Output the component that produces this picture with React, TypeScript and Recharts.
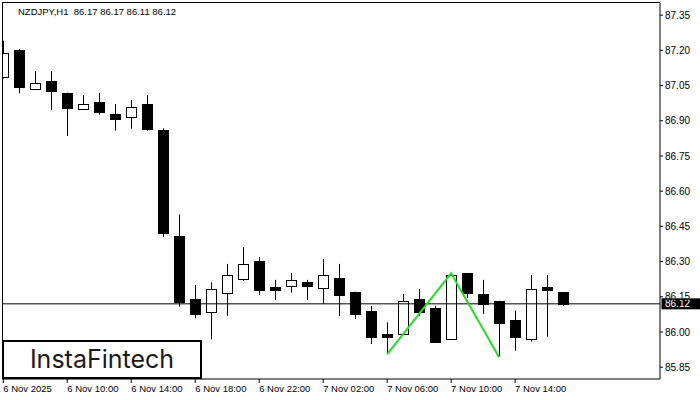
import React from "react";
import { ComposedChart, Bar, Line, XAxis, YAxis, ReferenceLine } from "recharts";

const opens = [87.088, 87.202, 87.037, 87.069, 87.018, 86.949, 86.98, 86.929, 86.917, 86.971, 86.861, 86.409, 86.141, 86.086, 86.167, 86.227, 86.303, 86.192, 86.197, 86.212, 86.189, 86.23, 86.17, 86.089, 85.99, 85.99, 86.139, 86.101, 85.969, 86.251, 86.162, 86.132, 86.051, 85.969, 86.19, 86.17];
const highs = [87.241, 87.205, 87.112, 87.112, 87.02, 87.01, 87.018, 86.971, 86.988, 87.01, 86.868, 86.501, 86.2, 86.212, 86.29, 86.362, 86.32, 86.222, 86.251, 86.222, 86.311, 86.29, 86.172, 86.111, 86.041, 86.162, 86.183, 86.111, 86.246, 86.252, 86.222, 86.133, 86.091, 86.243, 86.243, 86.17];
const lows = [87.08, 87.017, 87.035, 86.946, 86.835, 86.947, 86.926, 86.858, 86.866, 86.858, 86.406, 86.108, 86.058, 85.969, 86.069, 86.217, 86.158, 86.136, 86.167, 86.136, 86.119, 86.068, 86.055, 85.949, 85.909, 85.988, 86.068, 85.958, 85.968, 86.145, 86.077, 85.895, 85.92, 85.959, 85.98, 86.11];
const closes = [87.187, 87.045, 87.06, 87.028, 86.956, 86.971, 86.939, 86.909, 86.957, 86.866, 86.421, 86.129, 86.078, 86.182, 86.242, 86.288, 86.179, 86.179, 86.22, 86.197, 86.242, 86.159, 86.078, 85.98, 85.98, 86.131, 86.086, 85.959, 86.243, 86.167, 86.118, 86.04, 85.98, 86.182, 86.18, 86.12];

const patternIdx = [24, 28, 31];
const patternVals = [85.905, 86.25, 85.892];

const xTickIdx = [0, 4, 8, 12, 16, 20, 24, 28, 32];
const xTickLabels = ["6 Nov 2025", "6 Nov 10:00", "6 Nov 14:00", "6 Nov 18:00", "6 Nov 22:00", "7 Nov 02:00", "7 Nov 06:00", "7 Nov 10:00", "7 Nov 14:00"];
const yTicks = [85.85, 86.0, 86.15, 86.3, 86.45, 86.6, 86.75, 86.9, 87.05, 87.2, 87.35];
const lastPrice = 86.12;
const title = "NZDJPY,H1  86.17 86.17 86.11 86.12";
const logoText = "InstaFintech";

const data = opens.map((o, i) => {
  const p = patternIdx.indexOf(i);
  return {
    i,
    o,
    h: highs[i],
    l: lows[i],
    c: closes[i],
    range: [lows[i], highs[i]],
    zz: p >= 0 ? patternVals[p] : null,
  };
});

const FONT = "'Liberation Sans', Arial, sans-serif";

const Candle = (props: any) => {
  const { x, y, width, height, payload } = props;
  if (x == null || y == null || !payload) return null;
  const top = Math.min(y, y + height);
  const bot = Math.max(y, y + height);
  const { o, h, l, c } = payload;
  const k = (bot - top) / (h - l || 1);
  const py = (v: number) => top + (h - v) * k;
  const cx = Math.round(x + width / 2);
  const bTop = Math.round(py(Math.max(o, c)));
  const bBot = Math.round(py(Math.min(o, c)));
  const up = c >= o;
  return (
    <g>
      <line x1={cx + 0.5} x2={cx + 0.5} y1={top} y2={bot} stroke="#000" strokeWidth={1} />
      <rect
        x={cx - 5 + 0.5}
        y={bTop + 0.5}
        width={10}
        height={Math.max(bBot - bTop, 1)}
        fill={up ? "#fff" : "#000"}
        stroke="#000"
        strokeWidth={1}
      />
    </g>
  );
};

const XTick = (props: any) => {
  const { x, y, payload } = props;
  const idx = xTickIdx.indexOf(payload.value);
  if (idx < 0) return null;
  return (
    <text x={x} y={y} dy={7} fontSize={9.5} fontFamily={FONT} fill="#000" textAnchor="start">
      {xTickLabels[idx]}
    </text>
  );
};

const PriceLabel = (props: any) => {
  const vb = props.viewBox || {};
  const right = (vb.x || 0) + (vb.width || 0);
  const yy = vb.y || 0;
  return (
    <g>
      <rect x={right + 1.5} y={yy - 5.5} width={40} height={11} fill="#000" />
      <text x={right + 5} y={yy + 3.5} fontSize={10} fontFamily={FONT} fill="#fff">
        {lastPrice.toFixed(2)}
      </text>
    </g>
  );
};

export default function App() {
  return (
    <div style={{ position: "relative", width: 700, height: 400, background: "#fff" }}>
      <style>{"body{margin:0;background:#fff}"}</style>
      <ComposedChart
        width={700}
        height={400}
        data={data}
        margin={{ top: 3, left: 2, right: 0, bottom: 0 }}
      >
        <XAxis
          dataKey="i"
          type="number"
          domain={[-0.08, 41.06]}
          allowDataOverflow
          ticks={xTickIdx}
          interval={0}
          height={21}
          tickSize={4}
          tick={<XTick />}
          axisLine={{ stroke: "#000" }}
          tickLine={{ stroke: "#000" }}
        />
        <YAxis
          orientation="right"
          type="number"
          domain={[85.7997, 87.4018]}
          allowDataOverflow
          ticks={yTicks}
          interval={0}
          width={40}
          tickSize={3}
          tickMargin={2}
          tickFormatter={(v: number) => v.toFixed(2)}
          tick={{ fontSize: 10, fill: "#000", fontFamily: FONT }}
          axisLine={{ stroke: "#000" }}
          tickLine={{ stroke: "#000" }}
        />
        <ReferenceLine
          y={lastPrice}
          stroke="#000"
          strokeWidth={1}
          label={<PriceLabel />}
        />
        <Bar dataKey="range" barSize={11} shape={<Candle />} isAnimationActive={false} />
        <Line
          dataKey="zz"
          stroke="#22e022"
          strokeWidth={2}
          dot={false}
          connectNulls
          isAnimationActive={false}
        />
      </ComposedChart>
      <div
        style={{
          position: "absolute",
          left: 2,
          top: 2,
          width: 658,
          height: 377,
          borderLeft: "1px solid #000",
          borderTop: "1px solid #000",
          boxSizing: "border-box",
          pointerEvents: "none",
        }}
      />
      <div
        style={{
          position: "absolute",
          left: 18,
          top: 6.5,
          fontFamily: FONT,
          fontSize: 9.5,
          lineHeight: "10px",
          color: "#000",
          whiteSpace: "pre",
        }}
      >
        {title}
      </div>
      <div
        style={{
          position: "absolute",
          left: 2,
          top: 340,
          width: 200,
          height: 39,
          border: "2px solid #000",
          boxSizing: "border-box",
          background: "#fff",
          display: "flex",
          alignItems: "center",
          justifyContent: "center",
          fontFamily: "Inter, sans-serif",
          fontWeight: 400,
          fontSize: 25,
          lineHeight: 1,
          color: "#1a1a1a",
        }}
      >
        {logoText}
      </div>
    </div>
  );
}
